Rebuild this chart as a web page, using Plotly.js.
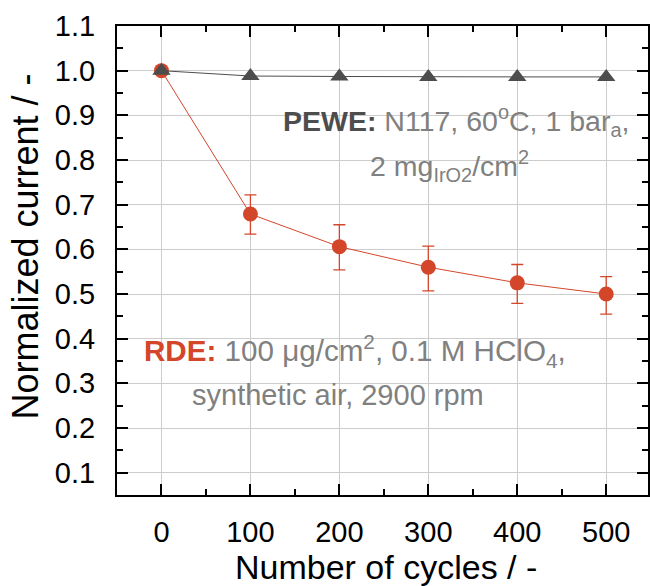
<!DOCTYPE html>
<html>
<head>
<meta charset="utf-8">
<script src="https://cdn.plot.ly/plotly-3.0.1.min.js"></script>
<style>html,body{margin:0;padding:0;background:#fff;}#chart{width:650px;height:586px;}</style>
</head>
<body>
<div id="chart"></div>
<script>
// Data
const cycles = [0, 100, 200, 300, 400, 500];
const rdeCurrent = [1.0, 0.679, 0.606, 0.560, 0.525, 0.500];
const rdeErrPlus = [0, 0.043, 0.049, 0.047, 0.041, 0.039];
const rdeErrMinus = [0, 0.045, 0.052, 0.053, 0.046, 0.045];
const peweCurrent = [1.0, 0.988, 0.987, 0.986, 0.986, 0.986];
const xTicks = [0, 100, 200, 300, 400, 500];
const yTicks = [0.1, 0.2, 0.3, 0.4, 0.5, 0.6, 0.7, 0.8, 0.9, 1.0, 1.1];
const yTickLabels = ['0.1','0.2','0.3','0.4','0.5','0.6','0.7','0.8','0.9','1.0','1.1'];
const xTitle = 'Number of cycles / -';
const yTitle = 'Normalized current / -';

const RED = '#d4462a';
const DARK = '#4d4d4d';
const GRAY = '#808080';
const FONT = '"Liberation Sans", Arial, sans-serif';

const traces = [
  {
    x: cycles, y: rdeCurrent, type: 'scatter', mode: 'lines+markers',
    line: {color: RED, width: 1},
    marker: {symbol: 'circle', size: 15, color: RED},
    error_y: {type: 'data', symmetric: false, array: rdeErrPlus, arrayminus: rdeErrMinus,
              color: RED, thickness: 1.3, width: 6, visible: true},
    showlegend: false
  },
  {
    x: cycles, y: peweCurrent, type: 'scatter', mode: 'lines+markers',
    line: {color: DARK, width: 1},
    marker: {symbol: 'triangle-up', size: 16, color: DARK},
    showlegend: false
  }
];

const axisCommon = {
  showline: true, linecolor: '#000', linewidth: 2, mirror: 'ticks',
  ticks: 'inside', ticklen: 11, tickwidth: 2, tickcolor: '#000',
  showgrid: true, gridcolor: '#cccccc', gridwidth: 1, zeroline: false,
  tickfont: {family: FONT, size: 29, color: '#000'}
};

const layout = {
  width: 650, height: 586,
  margin: {l: 117, r: 2, t: 26, b: 91},
  paper_bgcolor: '#fff', plot_bgcolor: '#fff',
  font: {family: FONT},
  xaxis: Object.assign({}, axisCommon, {
    range: [-50, 547], tickmode: 'array', tickvals: xTicks,
    ticklabelstandoff: 10,
    minor: {ticks: 'inside', ticklen: 6, tickwidth: 2, tickcolor: '#000', dtick: 50, tick0: 0, showgrid: false}
  }),
  yaxis: Object.assign({}, axisCommon, {
    range: [0.05, 1.1], tickmode: 'array', tickvals: yTicks, ticktext: yTickLabels,
    ticklabelstandoff: 14,
    minor: {ticks: 'inside', ticklen: 6, tickwidth: 2, tickcolor: '#000', dtick: 0.05, tick0: 0, showgrid: false}
  }),
  shapes: [
    {type: 'rect', xref: 'paper', yref: 'paper', x0: 0.2994, x1: 0.995, y0: 0.644, y1: 0.8465,
     fillcolor: '#fff', line: {width: 0}, layer: 'between'},
    {type: 'rect', xref: 'paper', yref: 'paper', x0: 0.0433, x1: 0.851, y0: 0.175, y1: 0.356,
     fillcolor: '#fff', line: {width: 0}, layer: 'between'}
  ],
  annotations: [
    {xref: 'paper', yref: 'paper', x: 0.5066, y: -0.1535, xanchor: 'center', yanchor: 'middle', showarrow: false,
     font: {family: FONT, size: 34, color: '#000'}, text: xTitle},
    {xref: 'paper', yref: 'paper', x: -0.173, y: 0.53, xanchor: 'center', yanchor: 'middle', showarrow: false,
     textangle: -90, font: {family: FONT, size: 36, color: '#000'}, text: yTitle},
    {xref: 'paper', yref: 'paper', x: 0.638, y: 0.797, xanchor: 'center', yanchor: 'middle', showarrow: false,
     font: {family: FONT, size: 28.5, color: GRAY},
     text: '<span style="color:' + DARK + '"><b>PEWE:</b></span> N117, 60<sup>o</sup>C, 1 bar<sub>a</sub>,'},
    {xref: 'paper', yref: 'paper', x: 0.627, y: 0.701, xanchor: 'center', yanchor: 'middle', showarrow: false,
     font: {family: FONT, size: 28.5, color: GRAY},
     text: '2 mg<sub>IrO2</sub>/cm<sup>2</sup>'},
    {xref: 'paper', yref: 'paper', x: 0.449, y: 0.307, xanchor: 'center', yanchor: 'middle', showarrow: false,
     font: {family: FONT, size: 29.6, color: GRAY},
     text: '<span style="color:' + RED + '"><b>RDE:</b></span> 100 μg/cm<sup>2</sup>, 0.1 M HClO<sub>4</sub>,'},
    {xref: 'paper', yref: 'paper', x: 0.416, y: 0.213, xanchor: 'center', yanchor: 'middle', showarrow: false,
     font: {family: FONT, size: 29, color: GRAY},
     text: 'synthetic air, 2900 rpm'}
  ]
};

Plotly.newPlot('chart', traces, layout, {displayModeBar: false, staticPlot: true});
</script>
</body>
</html>
